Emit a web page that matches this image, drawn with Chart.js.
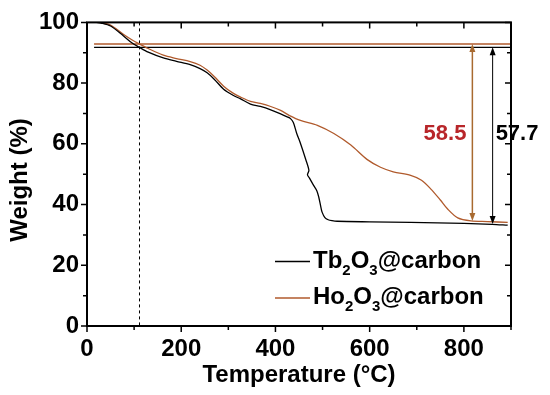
<!DOCTYPE html>
<html><head><meta charset="utf-8">
<script src="https://cdn.jsdelivr.net/npm/chart.js@4.4.1/dist/chart.umd.min.js"></script>
<style>html,body{margin:0;padding:0;background:#fff}#wrap{width:550px;height:395px}</style>
</head><body><div id="wrap"><canvas id="c" width="550" height="395"></canvas></div>
<script>
// ---- data ----
const seriesLabels = ['Tb₂O₃@carbon', 'Ho₂O₃@carbon'];
const tbTemp   = [20, 30, 50, 77, 95, 110, 130, 162, 190, 219, 240, 255, 270, 290, 310, 326, 347, 368, 390, 411, 425, 432, 438, 445, 453, 464, 471, 468, 472, 481, 488, 492, 496, 499, 505, 512, 520, 531, 600, 687, 800, 860, 893];
const tbWeight = [100, 99.8, 98.8, 95.6, 93.3, 91.9, 90.2, 88.3, 87.2, 86.1, 84.8, 83.4, 81.3, 78, 76, 74.8, 73.1, 72.3, 71.2, 69.9, 68.9, 68.3, 67, 63.5, 60.2, 55, 51.3, 49.8, 48.8, 46.3, 44.5, 42.4, 39.5, 37.5, 35.7, 35, 34.7, 34.5, 34.3, 34.1, 33.8, 33.5, 33.2];
const hoTemp   = [20, 30, 50, 77, 95, 110, 130, 162, 190, 219, 240, 255, 270, 290, 310, 326, 347, 368, 390, 411, 430, 453, 489, 524, 560, 595, 623, 650, 687, 710, 730, 750, 765, 787, 815, 850, 893];
const hoWeight = [100, 99.9, 99.1, 96.1, 94.3, 93, 91.4, 89.2, 88.1, 87.1, 85.9, 84.3, 82.2, 79, 76.7, 75.4, 74, 73.3, 72.3, 71, 69.3, 67.7, 66.1, 63.4, 59.6, 54.8, 52.3, 50.8, 49.6, 48, 45.1, 41.5, 38.6, 35.6, 34.6, 34.4, 34.1];
const refLineTemp   = [15, 900];
const refLineWeight = [91.8, 92.9];      // Tb, Ho
const dashedTemp    = 110;
const arrowTemp     = [861, 818];        // Tb, Ho
const arrowBottom   = [33.6, 34.6];      // Tb, Ho
const lossLabels    = ['57.7', '58.5'];  // Tb, Ho
const labelWeight   = 61.3;
const xTickValues = [0, 200, 400, 600, 800];
const xMinorValues = [100, 300, 500, 700, 900];
const yTickValues = [0, 20, 40, 60, 80, 100];
const yMinorValues = [10, 30, 50, 70, 90];

const BLACK = '#000000', BROWN = '#b05a2c', RED = '#b8262a', BROWN_ARROW = '#a86a30';
const FONT = "'Liberation Sans', Arial, sans-serif";

const pts = (xs, ys) => xs.map((x, i) => ({x, y: ys[i]}));
const hline = (w) => refLineTemp.map(t => ({x: t, y: w}));

const framePlugin = {
  id: 'frame',
  beforeDatasetsDraw(chart) {
    const {ctx, chartArea: a, scales: {x}} = chart;
    ctx.save();
    ctx.strokeStyle = '#000'; ctx.lineWidth = 1; ctx.setLineDash([3, 3]);
    const px = Math.round(x.getPixelForValue(dashedTemp)) + 0.5;
    ctx.beginPath(); ctx.moveTo(px, a.top); ctx.lineTo(px, a.bottom); ctx.stroke();
    ctx.restore();
  },
  afterDatasetsDraw(chart) {
    const {ctx, chartArea: a, scales: {x, y}} = chart;
    ctx.save();
    // arrows
    const cols = [BLACK, BROWN_ARROW];
    const widths = [1, 1.5];
    for (let i = 0; i < 2; i++) {
      const px = x.getPixelForValue(arrowTemp[i]);
      const y1 = y.getPixelForValue(refLineWeight[i]);
      const y2 = y.getPixelForValue(arrowBottom[i]);
      ctx.strokeStyle = cols[i]; ctx.fillStyle = cols[i]; ctx.lineWidth = widths[i];
      ctx.beginPath(); ctx.moveTo(px, y1 + 6); ctx.lineTo(px, y2 - 6); ctx.stroke();
      ctx.beginPath(); ctx.moveTo(px, y1); ctx.lineTo(px - 3, y1 + 8); ctx.lineTo(px + 3, y1 + 8); ctx.closePath(); ctx.fill();
      ctx.beginPath(); ctx.moveTo(px, y2); ctx.lineTo(px - 3, y2 - 8); ctx.lineTo(px + 3, y2 - 8); ctx.closePath(); ctx.fill();
    }
    // loss labels
    ctx.font = 'bold 22px ' + FONT; ctx.textBaseline = 'alphabetic';
    const ly = y.getPixelForValue(labelWeight);
    ctx.fillStyle = RED; ctx.textAlign = 'right';
    ctx.fillText(lossLabels[1], x.getPixelForValue(arrowTemp[1]) - 6, ly);
    ctx.fillStyle = BLACK; ctx.textAlign = 'left';
    ctx.fillText(lossLabels[0], x.getPixelForValue(arrowTemp[0]) + 3, ly);
    // frame
    ctx.strokeStyle = '#000'; ctx.lineWidth = 2;
    ctx.strokeRect(a.left, a.top, a.right - a.left, a.bottom - a.top);
    // ticks
    ctx.lineWidth = 1.5;
    ctx.beginPath();
    const xt = (v, len) => {
      const p = x.getPixelForValue(v);
      ctx.moveTo(p, a.bottom); ctx.lineTo(p, a.bottom + len);
      ctx.moveTo(p, a.top); ctx.lineTo(p, a.top + len);
    };
    const yt = (v, len) => {
      const p = y.getPixelForValue(v);
      ctx.moveTo(a.left, p); ctx.lineTo(a.left - len, p);
      ctx.moveTo(a.right, p); ctx.lineTo(a.right - len, p);
    };
    xTickValues.forEach(v => xt(v, 6));
    xMinorValues.forEach(v => xt(v, 4));
    yTickValues.forEach(v => yt(v, 6));
    yMinorValues.forEach(v => yt(v, 4));
    ctx.stroke();
    // y axis title (drawn here to match its offset in the reference)
    ctx.save();
    ctx.translate(20, 180);
    ctx.rotate(-Math.PI / 2);
    ctx.font = 'bold 24px ' + FONT; ctx.fillStyle = '#000';
    ctx.textAlign = 'center'; ctx.textBaseline = 'middle';
    ctx.fillText(y.options.title.text, 0, 0);
    ctx.restore();
    // legend
    const legendY = [261.5, 298];
    const colsL = [BLACK, BROWN];
    chart.data.datasets.filter(d => d.showInLegend).forEach((d, i) => {
      const ly2 = legendY[i];
      ctx.strokeStyle = colsL[i]; ctx.lineWidth = 1.3;
      ctx.beginPath(); ctx.moveTo(275, ly2); ctx.lineTo(310, ly2); ctx.stroke();
      let cx = 313;
      const base = ly2 + 6;
      ctx.fillStyle = '#000'; ctx.textAlign = 'left'; ctx.textBaseline = 'alphabetic';
      const sub = {'₂': '2', '₃': '3'};
      let buf = '';
      const flush = () => { if (buf) { ctx.font = 'bold 24px ' + FONT; ctx.fillText(buf, cx, base); cx += ctx.measureText(buf).width; buf = ''; } };
      for (const ch of d.label) {
        if (sub[ch]) {
          flush();
          ctx.font = 'bold 15px ' + FONT;
          ctx.fillText(sub[ch], cx, base + 7);
          cx += ctx.measureText(sub[ch]).width;
        } else buf += ch;
      }
      flush();
    });
    ctx.restore();
  }
};

new Chart(document.getElementById('c'), {
  type: 'line',
  data: {
    datasets: [
      {label: seriesLabels[0], data: pts(tbTemp, tbWeight), borderColor: BLACK, borderWidth: 1.3, pointRadius: 0, tension: 0.3, showInLegend: true},
      {label: seriesLabels[1], data: pts(hoTemp, hoWeight), borderColor: BROWN, borderWidth: 1.3, pointRadius: 0, tension: 0.3, showInLegend: true},
      {label: 'ref Tb', data: hline(refLineWeight[0]), borderColor: BLACK, borderWidth: 1.3, pointRadius: 0},
      {label: 'ref Ho', data: hline(refLineWeight[1]), borderColor: BROWN, borderWidth: 1.5, pointRadius: 0}
    ]
  },
  options: {
    responsive: false, animation: false,
    layout: {padding: {top: 17, right: 39, left: 0, bottom: 0}},
    plugins: {legend: {display: false}, tooltip: {enabled: false}},
    scales: {
      x: {
        type: 'linear', min: 0, max: 900,
        afterBuildTicks: s => { s.ticks = xTickValues.map(v => ({value: v})); },
        afterFit: s => { s.height = 69; },
        grid: {display: false, drawTicks: false}, border: {display: false},
        ticks: {padding: 9, color: '#000', font: {family: FONT, weight: 'bold', size: 24}},
        title: {display: true, text: 'Temperature (°C)', color: '#000', font: {family: FONT, weight: 'bold', size: 24}, padding: {top: 0, bottom: 5}}
      },
      y: {
        min: 0, max: 100,
        afterBuildTicks: s => { s.ticks = yTickValues.map(v => ({value: v})); },
        afterFit: s => { s.width = 87; },
        grid: {display: false, drawTicks: false}, border: {display: false},
        ticks: {padding: 8, color: '#000', font: {family: FONT, weight: 'bold', size: 24}},
        title: {display: false, text: 'Weight (%)', color: '#000', font: {family: FONT, weight: 'bold', size: 24}}
      }
    }
  },
  plugins: [framePlugin]
});
</script></body></html>
